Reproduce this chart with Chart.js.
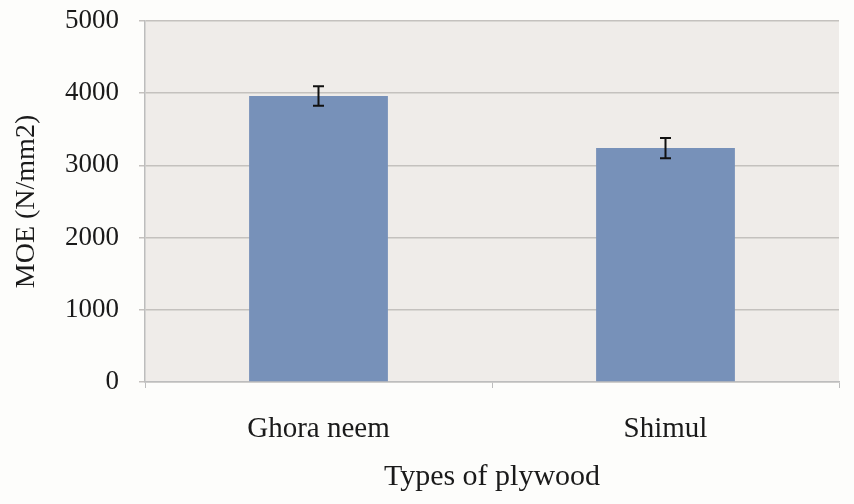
<!DOCTYPE html>
<html><head><meta charset="utf-8">
<script src="https://cdn.jsdelivr.net/npm/chart.js@4/dist/chart.umd.min.js"></script>
<style>html,body{margin:0;padding:0;background:#FDFDFB;}#wrap{width:854px;height:504px;}</style>
</head><body><div id="wrap"><canvas id="c" width="854" height="504"></canvas></div>
<script>
const categories = ["Ghora neem", "Shimul"];
const moeValues = [3960, 3240];
const moeErrors = [135, 140];
const yTicks = [0, 1000, 2000, 3000, 4000, 5000];

const bgPlugin = {
  id: 'bg',
  beforeDraw(chart) {
    const {ctx, chartArea: a} = chart;
    ctx.save();
    ctx.fillStyle = '#EFECE9';
    ctx.fillRect(a.left, a.top, a.right - a.left, a.bottom - a.top);
    ctx.restore();
  }
};
const errPlugin = {
  id: 'err',
  afterDatasetsDraw(chart) {
    const {ctx} = chart;
    const meta = chart.getDatasetMeta(0);
    const ys = chart.scales.y;
    ctx.save();
    ctx.strokeStyle = '#111';
    ctx.lineWidth = 2;
    meta.data.forEach((bar, i) => {
      const v = moeValues[i], e = moeErrors[i];
      const yt = ys.getPixelForValue(v + e), yb = ys.getPixelForValue(v - e);
      const x = bar.x;
      ctx.beginPath();
      ctx.moveTo(x, yt); ctx.lineTo(x, yb);
      ctx.moveTo(x - 5.5, yt); ctx.lineTo(x + 5.5, yt);
      ctx.moveTo(x - 5.5, yb); ctx.lineTo(x + 5.5, yb);
      ctx.stroke();
    });
    ctx.restore();
  }
};

new Chart(document.getElementById('c'), {
  type: 'bar',
  data: {
    labels: categories,
    datasets: [{ data: moeValues, backgroundColor: '#7791B9', borderWidth: 0,
      barPercentage: 0.4, categoryPercentage: 1.0 }]
  },
  options: {
    responsive: false, animation: false,
    layout: { padding: { top: 0, right: 15, left: 0, bottom: 0 } },
    plugins: { legend: { display: false }, tooltip: { enabled: false } },
    scales: {
      x: {
        afterFit(s) { s.height = 122; },
        grid: { display: true, drawOnChartArea: false, drawTicks: true, tickLength: 6, color: '#BDBDBD', offset: true },
        border: { display: true, color: '#BDBDBD', width: 1.5 },
        ticks: { color: '#1a1a1a', font: { family: 'Liberation Serif', size: 29 }, padding: 24 },
        title: { display: true, text: 'Types of plywood', color: '#1a1a1a',
          font: { family: 'Liberation Serif', size: 30 }, padding: { top: 0, bottom: 9 } }
      },
      y: {
        min: 0, max: 5000,
        afterFit(s) { s.width = 145; s.paddingTop = 21; s.paddingBottom = 0; },
        afterBuildTicks(s) { s.ticks = yTicks.map(v => ({ value: v })); },
        grid: { color: '#C4C1BE', lineWidth: 1.5, drawTicks: true, tickLength: 6 },
        border: { display: true, color: '#BDBDBD', width: 1.5 },
        ticks: { color: '#1a1a1a', font: { family: 'Liberation Serif', size: 27 }, padding: 20,
          callback: v => String(v) },
        title: { display: true, text: 'MOE (N/mm2)', color: '#1a1a1a',
          font: { family: 'Liberation Serif', size: 28 }, padding: { top: 10, bottom: 0 } }
      }
    }
  },
  plugins: [bgPlugin, errPlugin]
});
</script></body></html>
